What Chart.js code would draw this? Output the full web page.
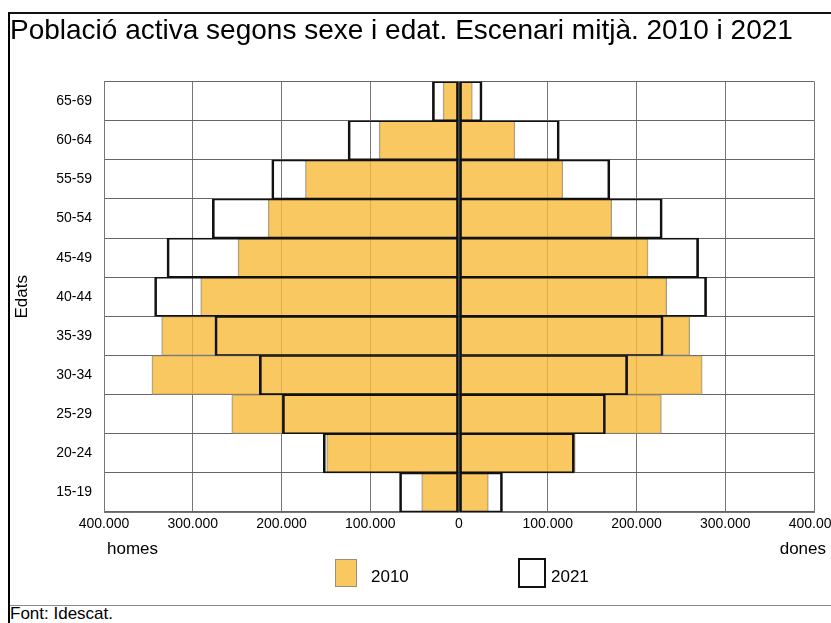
<!DOCTYPE html>
<html>
<head>
<meta charset="utf-8">
<script src="https://cdn.jsdelivr.net/npm/chart.js@4.4.1/dist/chart.umd.min.js"></script>
<style>
  body { margin: 0; width: 831px; height: 623px; overflow: hidden; background: #fff; font-family: "Liberation Sans", Arial, sans-serif; }
  #frame { position: absolute; left: 8px; top: 12px; width: 900px; height: 700px; border-left: 2px solid #000; border-top: 2px solid #111; }
  #chart { position: absolute; left: 10px; top: 14px; }
  #sep { position: absolute; left: 10px; top: 605px; width: 900px; border-top: 1px solid #8a8a8a; }
  #font { position: absolute; left: 10px; top: 604px; font-size: 17px; color: #000; }
</style>
</head>
<body>
<div id="frame"></div>
<canvas id="chart" width="836" height="590"></canvas>
<div id="sep"></div>
<div id="font">Font: Idescat.</div>
<script>
const ageGroups = ["65-69", "60-64", "55-59", "50-54", "45-49", "40-44", "35-39", "30-34", "25-29", "20-24", "15-19"];
const seriesNames = ["2010", "2021"];
const homes2010 = [18000, 90000, 173000, 215000, 249000, 291000, 335000, 346000, 256000, 149000, 42000];
const homes2021 = [30000, 125000, 211000, 278000, 329000, 343000, 275000, 225000, 199000, 153000, 67000];
const dones2010 = [15000, 63000, 117000, 172000, 213000, 234000, 260000, 274000, 228000, 131000, 33000];
const dones2021 = [26000, 113000, 170000, 229000, 270000, 279000, 230000, 190000, 165000, 130000, 49000];
const sideLabels = ["homes", "dones"];

const fontName = "'Liberation Sans', Arial, sans-serif";
const orange = "rgba(249,186,58,0.8)";
const orangeEdge = "rgba(130,130,130,0.8)";

// thousands with a dot, no sign
const fmt = (v) => Math.abs(v).toString().replace(/\B(?=(\d{3})+(?!\d))/g, ".");

const bar2010 = {
  backgroundColor: orange,
  borderColor: orangeEdge,
  borderWidth: 1,
  borderSkipped: false,
  grouped: false,
  order: 1,
  barPercentage: 1,
  categoryPercentage: 1
};
const bar2021 = {
  backgroundColor: "rgba(0,0,0,0)",
  borderColor: "#111",
  borderWidth: { top: 1, bottom: 1, left: 2, right: 2 },
  borderSkipped: false,
  grouped: false,
  order: 0, // drawn on top of 2010
  barPercentage: 1,
  categoryPercentage: 1
};

// homes, dones and the legend under the axis
const extras = {
  id: "extras",
  afterDraw(chart) {
    const ctx = chart.ctx;
    const x = chart.scales.x;
    const area = chart.chartArea;
    ctx.save();
    ctx.fillStyle = "#000";
    ctx.font = "17px " + fontName;
    ctx.textBaseline = "middle";
    ctx.textAlign = "left";
    ctx.fillText(sideLabels[0], x.getPixelForValue(-400000) + 3, 535);
    ctx.textAlign = "right";
    ctx.fillText(sideLabels[1], x.getPixelForValue(400000) + 12, 535);

    const mid = (area.left + area.right) / 2;
    // 2010
    ctx.fillStyle = orange;
    ctx.fillRect(mid - 124, 545, 22, 28);
    ctx.strokeStyle = orangeEdge;
    ctx.lineWidth = 1;
    ctx.strokeRect(mid - 123.5, 545.5, 21, 27);
    // 2021
    ctx.strokeStyle = "#111";
    ctx.lineWidth = 2;
    ctx.strokeRect(mid + 60, 545, 26, 28);
    ctx.fillStyle = "#000";
    ctx.textAlign = "left";
    ctx.fillText(seriesNames[0], mid - 88, 563);
    ctx.fillText(seriesNames[1], mid + 92, 563);
    ctx.restore();
  }
};

new Chart(document.getElementById("chart"), {
  type: "bar",
  data: {
    labels: ageGroups,
    datasets: [
      Object.assign({ label: seriesNames[0], data: homes2010.map(v => -v) }, bar2010),
      Object.assign({ label: seriesNames[0], data: dones2010 }, bar2010),
      Object.assign({ label: seriesNames[1], data: homes2021.map(v => -v) }, bar2021),
      Object.assign({ label: seriesNames[1], data: dones2021 }, bar2021)
    ]
  },
  options: {
    indexAxis: "y",
    responsive: false,
    animation: false,
    devicePixelRatio: 1,
    layout: { padding: { left: 0, right: 32, top: 0, bottom: 0 } },
    plugins: {
      legend: { display: false },
      tooltip: { enabled: false },
      title: {
        display: true,
        text: "Població activa segons sexe i edat. Escenari mitjà. 2010 i 2021",
        align: "start",
        color: "#000",
        font: { family: fontName, size: 28, weight: "normal" },
        padding: { top: 0, bottom: 34 }
      }
    },
    scales: {
      x: {
        min: -400000,
        max: 400000,
        ticks: {
          stepSize: 100000,
          color: "#000",
          padding: 4,
          maxRotation: 0,
          font: { family: fontName, size: 14 },
          callback: (v) => fmt(v)
        },
        grid: { color: "#777", drawTicks: false },
        border: { color: "#777" },
        afterFit: (s) => { s.height = 92; }
      },
      y: {
        ticks: {
          color: "#000",
          padding: 12,
          font: { family: fontName, size: 14 }
        },
        grid: { color: "#666", drawTicks: false },
        border: { color: "#777" },
        title: {
          display: true,
          text: "Edats",
          color: "#000",
          font: { family: fontName, size: 17 },
          padding: { top: 2, bottom: 0 }
        },
        afterFit: (s) => { s.width = 94; }
      }
    }
  },
  plugins: [extras]
});
</script>
</body>
</html>
